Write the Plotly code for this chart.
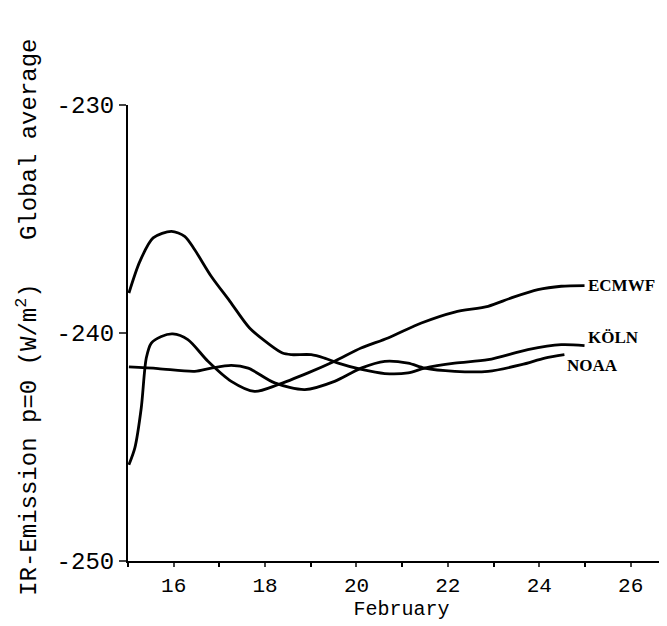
import plotly.graph_objects as go

# Days in February and global-average IR emission (W/m^2)
ecmwf_day = [15.02, 15.15, 15.29, 15.40, 15.51, 15.73, 15.98, 16.31, 16.75, 17.26, 17.77,
             18.28, 18.94, 19.52, 20.10, 20.69, 21.42, 22.15, 22.88, 23.39, 23.97, 24.48, 24.99]
ecmwf_val = [-245.78, -245.04, -243.29, -241.10, -240.44, -240.15, -240.04, -240.29, -241.24,
             -242.12, -242.56, -242.27, -241.75, -241.24, -240.66, -240.22, -239.56, -239.08,
             -238.83, -238.46, -238.10, -237.95, -237.92]

koeln_day = [15.02, 15.26, 15.55, 15.95, 16.24, 16.46, 16.82, 17.23, 17.66, 18.10, 18.38,
             18.57, 19.01, 19.30, 19.60, 20.11, 20.62, 21.13, 21.49, 22.15, 22.88, 23.75,
             24.48, 24.99]
koeln_val = [-238.25, -236.86, -235.83, -235.54, -235.76, -236.35, -237.51, -238.61, -239.78,
             -240.51, -240.88, -240.95, -240.95, -241.10, -241.32, -241.60, -241.78, -241.75,
             -241.54, -241.32, -241.17, -240.73, -240.51, -240.55]

noaa_day = [15.02, 15.66, 16.46, 16.82, 17.26, 17.63, 18.21, 18.87, 19.52, 20.10, 20.62,
            21.13, 21.49, 22.15, 22.88, 23.61, 24.12, 24.55]
noaa_val = [-241.49, -241.56, -241.68, -241.54, -241.42, -241.54, -242.19, -242.48, -242.12,
            -241.54, -241.24, -241.32, -241.54, -241.68, -241.68, -241.39, -241.10, -240.95]

x_ticks = [16, 18, 20, 22, 24, 26]
y_ticks = [-250, -240, -230]
y_tick_text = ["-250", "-240", "-230"]

series = [
    ("ECMWF", ecmwf_day, ecmwf_val),
    ("KÖLN", koeln_day, koeln_val),
    ("NOAA", noaa_day, noaa_val),
]
label_shift = {"ECMWF": (2, 0), "KÖLN": (2, 8), "NOAA": (2, -11)}

mono = "Liberation Mono"
serif = "Liberation Serif"

fig = go.Figure()
for name, xs, ys in series:
    fig.add_trace(go.Scatter(x=xs, y=ys, mode="lines", name=name,
                             line=dict(color="black", width=2.8, shape="spline", smoothing=0.8)))
    dx, dy = label_shift[name]
    fig.add_annotation(x=xs[-1], y=ys[-1], text="<b>" + name + "</b>", showarrow=False,
                       xanchor="left", yanchor="middle", xshift=dx, yshift=dy, borderpad=0,
                       font=dict(family=serif, size=17, color="black"))

fig.add_annotation(xref="paper", yref="paper", x=-0.185, y=0.535, textangle=-90,
                   xanchor="center", yanchor="middle",
                   text="IR-Emission p=0 (W/m<sup>2</sup>)   Global average",
                   showarrow=False, font=dict(family=mono, size=24, color="black"))

fig.update_layout(
    width=667, height=626,
    margin=dict(l=120, r=0, t=97, b=73),
    paper_bgcolor="white", plot_bgcolor="white",
    showlegend=False,
    font=dict(family=mono, size=21, color="black"),
    xaxis=dict(range=[15, 26.97], tickvals=x_ticks, ticks="outside", ticklen=4, tickwidth=2,
               showgrid=False, zeroline=False, showline=True, linecolor="black", linewidth=2,
               minor=dict(dtick=1, ticks="outside", ticklen=4, tickwidth=2, tickcolor="black"),
               tickfont=dict(family=mono, size=21),
               title=dict(text="February", font=dict(family=mono, size=20), standoff=2)),
    yaxis=dict(range=[-250, -230], tickvals=y_ticks, ticktext=y_tick_text,
               ticks="outside", ticklen=7, tickwidth=2,
               showgrid=False, zeroline=False, showline=True, linecolor="black", linewidth=2,
               tickfont=dict(family=mono, size=24)),
)

fig.write_html("out.html")
